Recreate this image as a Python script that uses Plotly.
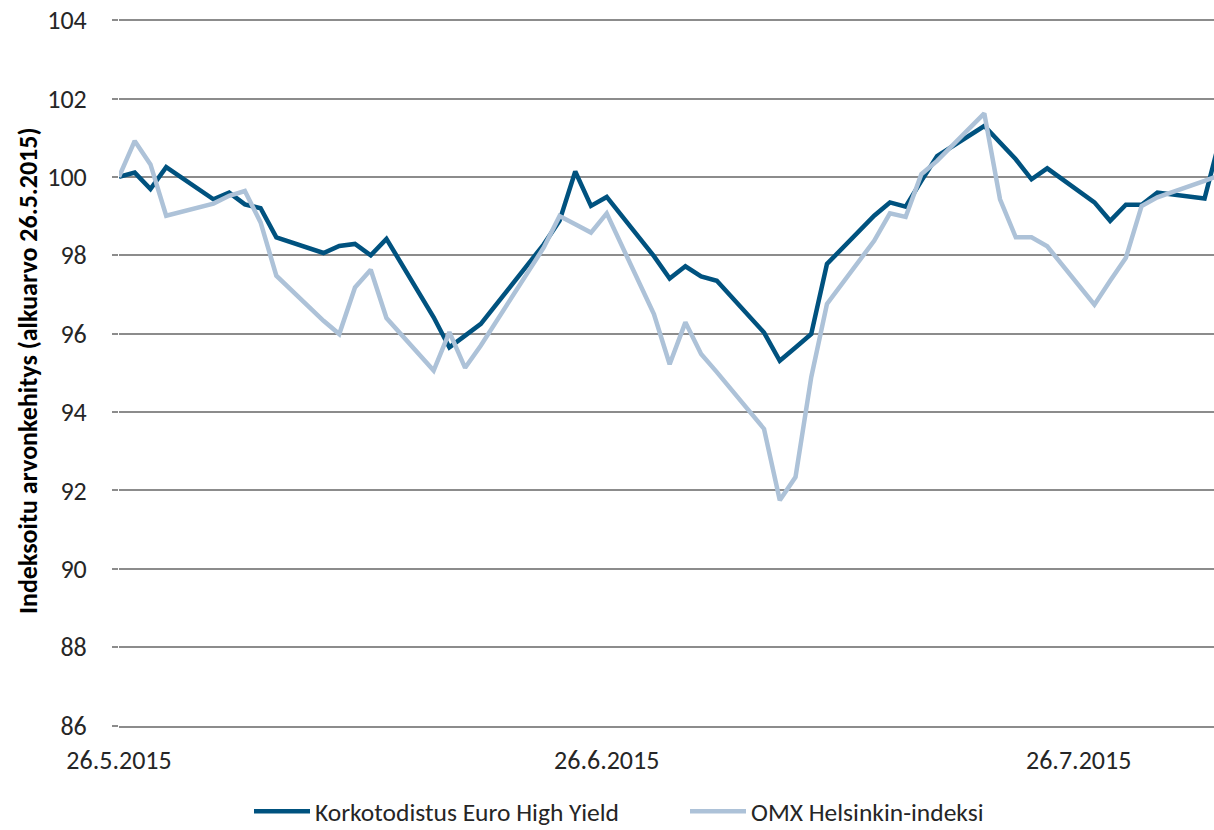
import plotly.graph_objects as go

dates = [
    "2015-05-26", "2015-05-27", "2015-05-28", "2015-05-29",
    "2015-06-01", "2015-06-02", "2015-06-03", "2015-06-04", "2015-06-05",
    "2015-06-08", "2015-06-09", "2015-06-10", "2015-06-11", "2015-06-12",
    "2015-06-15", "2015-06-16", "2015-06-17", "2015-06-18",
    "2015-06-22", "2015-06-23", "2015-06-24", "2015-06-25", "2015-06-26",
    "2015-06-29", "2015-06-30", "2015-07-01", "2015-07-02", "2015-07-03",
    "2015-07-06", "2015-07-07", "2015-07-08", "2015-07-09", "2015-07-10",
    "2015-07-13", "2015-07-14", "2015-07-15", "2015-07-16", "2015-07-17",
    "2015-07-20", "2015-07-21", "2015-07-22", "2015-07-23", "2015-07-24",
    "2015-07-27", "2015-07-28", "2015-07-29", "2015-07-30", "2015-07-31",
    "2015-08-03", "2015-08-04",
]

high_yield = [
    100.0, 100.11, 99.69, 100.25,
    99.43, 99.6, 99.3, 99.2, 98.46,
    98.06, 98.24, 98.29, 98.0, 98.42,
    96.42, 95.65, 95.95, 96.25,
    98.28, 98.88, 100.14, 99.26, 99.49,
    97.98, 97.41, 97.72, 97.46, 97.35,
    96.03, 95.31, 95.65, 95.99, 97.78,
    99.01, 99.35, 99.24, 99.9, 100.53,
    101.3, 100.88, 100.45, 99.94, 100.22,
    99.35, 98.88, 99.29, 99.29, 99.6,
    99.45, 101.0,
]

omx_helsinki = [
    100.0, 100.92, 100.32, 99.01,
    99.32, 99.52, 99.64, 98.84, 97.48,
    96.33, 95.99, 97.18, 97.63, 96.4,
    95.06, 96.04, 95.13, 95.7,
    98.2, 99.0, 98.79, 98.58, 99.07,
    96.5, 95.22, 96.29, 95.48, 95.02,
    93.57, 91.75, 92.34, 94.89, 96.76,
    98.37, 99.07, 98.98, 100.07, 100.41,
    101.62, 99.43, 98.46, 98.46, 98.23,
    96.74, 97.35, 97.94, 99.26, 99.48,
    99.9, 100.05,
]

x_tick_vals = ["2015-05-26", "2015-06-26", "2015-07-26"]
x_tick_text = ["26.5.2015", "26.6.2015", "26.7.2015"]
y_tick_vals = [86, 88, 90, 92, 94, 96, 98, 100, 102, 104]

series_names = ["Korkotodistus Euro High Yield", "OMX Helsinkin-indeksi"]
y_title = "Indeksoitu arvonkehitys (alkuarvo 26.5.2015)"

FONT = "Carlito, Calibri, 'Liberation Sans Narrow', 'DejaVu Sans Condensed', sans-serif"
GRID = "#8c8c8c"

fig = go.Figure()
fig.add_trace(go.Scatter(x=dates, y=high_yield, mode="lines", name=series_names[0],
                         line=dict(color="#00527F", width=4.5)))
fig.add_trace(go.Scatter(x=dates, y=omx_helsinki, mode="lines", name=series_names[1],
                         line=dict(color="#ADC2D8", width=4.5)))

fig.update_layout(
    width=1214, height=830,
    margin=dict(l=119, r=0, t=19, b=104),
    paper_bgcolor="white", plot_bgcolor="white",
    font=dict(family=FONT, size=26, color="#262626"),
    showlegend=True,
    legend=dict(orientation="h", xref="container", yref="container",
                x=249 / 1214, xanchor="left", y=0.022, yanchor="middle",
                font=dict(size=25.5), itemwidth=56,
                entrywidth=365, entrywidthmode="pixels",
                bgcolor="rgba(0,0,0,0)"),
    xaxis=dict(type="date", range=["2015-05-26", "2015-08-03 14:24"],
               tickmode="array", tickvals=x_tick_vals, ticktext=x_tick_text,
               showgrid=False, zeroline=False,
               showline=True, linecolor=GRID, linewidth=2,
               ticks="outside", ticklen=10, tickcolor="rgba(0,0,0,0)",
               tickfont=dict(size=26)),
    yaxis=dict(range=[85.99, 104.03], tickmode="array", tickvals=y_tick_vals,
               showgrid=True, gridcolor=GRID, gridwidth=2,
               zeroline=False, showline=False,
               ticks="outside", ticklen=6, tickcolor=GRID, tickwidth=2,
               ticklabelstandoff=20, tickfont=dict(size=26)),
    annotations=[dict(text="<b>" + y_title + "</b>", textangle=-90,
                      xref="paper", yref="paper", x=(28 - 119) / 1095, y=(830 - 104 - 371) / 707,
                      xanchor="center", yanchor="middle", showarrow=False,
                      font=dict(size=26, family=FONT, color="#000000"))],
)

fig.write_html("out.html", config={"displayModeBar": False},
               post_script="document.body.style.margin='0';document.documentElement.style.margin='0';")
